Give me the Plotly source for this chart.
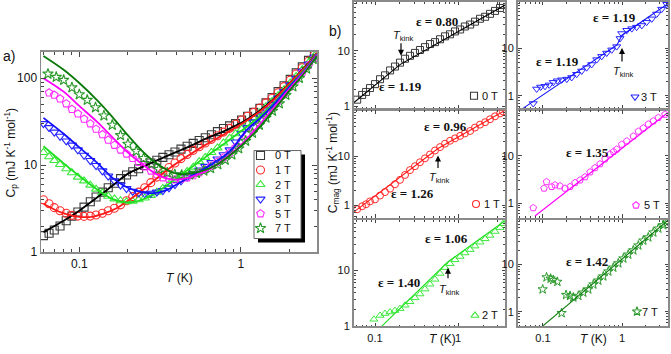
import plotly.graph_objects as go

W, H = 671, 354

# ---------------- panel a): C_p(T) for several fields ----------------
FIELDS = ["0 T", "1 T", "2 T", "3 T", "5 T", "7 T"]

T_A = [0.060, 0.065, 0.070, 0.076, 0.083, 0.090, 0.098, 0.107, 0.117, 0.127,
       0.139, 0.151, 0.165, 0.180, 0.196, 0.214, 0.233, 0.254, 0.277, 0.302,
       0.329, 0.359, 0.391, 0.426, 0.465, 0.507, 0.552, 0.602, 0.657, 0.716,
       0.780, 0.851, 0.927, 1.01, 1.10, 1.20, 1.31, 1.43, 1.56, 1.70,
       1.85, 2.02, 2.20, 2.40, 2.62, 2.85]
CP_0T = [1.55, 1.65, 1.8, 2.0, 2.3, 2.6, 2.9, 3.3, 3.8, 4.3,
         4.9, 5.5, 6.2, 7.0, 7.7, 8.4, 9.1, 9.9, 10.6, 11.4,
         12.3, 13.2, 14.2, 15.3, 16.5, 17.8, 19.2, 20.7, 22.4, 24.3,
         26.4, 28.3, 30.0, 33.0, 36.5, 40.5, 45, 52, 60, 70,
         82, 97, 115, 135, 160, 190]
CP_1T = [4.0, 3.6, 3.25, 3.0, 2.8, 2.65, 2.6, 2.58, 2.6, 2.68,
         2.8, 3.0, 3.2, 3.5, 3.9, 4.35, 4.9, 5.5, 6.3, 7.3,
         8.3, 9.4, 10.6, 11.9, 13.3, 14.8, 16.3, 18.0, 19.8, 21.8,
         24.0, 26.5, 29.5, 33.0, 36.5, 40.5, 45.5, 52, 59, 68,
         80, 95, 112, 132, 157, 185]
CP_2T = [14, 12.5, 11.3, 10.2, 9.1, 8.2, 7.3, 6.6, 5.9, 5.3,
         4.8, 4.4, 4.1, 3.9, 3.8, 3.85, 4.0, 4.2, 4.5, 4.9,
         5.4, 6.0, 6.8, 7.6, 8.5, 9.5, 11.0, 12.3, 14.0, 15.8,
         18.0, 20.5, 23.0, 26.0, 30.0, 34.5, 40, 47, 54, 63,
         74, 88, 105, 125, 150, 180]
CP_3T = [30, 27, 24, 21.5, 19, 17, 15, 13, 11.3, 9.9,
         8.6, 7.5, 6.6, 5.9, 5.4, 5.0, 4.8, 4.7, 4.75, 4.9,
         5.1, 5.5, 6.0, 6.6, 7.3, 8.0, 8.8, 9.7, 10.7, 11.8,
         13.2, 15.0, 18.5, 23.0, 27.0, 31.5, 37, 43, 50, 59,
         70, 84, 100, 120, 145, 175]
T_A5 = [0.065, 0.070, 0.076, 0.083, 0.090, 0.098, 0.107, 0.117, 0.127,
        0.139, 0.151, 0.165, 0.180, 0.196, 0.214, 0.233, 0.254, 0.277, 0.302,
        0.329, 0.359, 0.391, 0.426, 0.465, 0.507, 0.552, 0.602, 0.657, 0.716,
        0.780, 0.851, 0.927, 1.01, 1.10, 1.20, 1.31, 1.43, 1.56, 1.70,
        1.85, 2.02, 2.20, 2.40, 2.62, 2.85]
CP_5T = [68, 64, 58, 51, 44, 39, 34, 30, 26,
         22.5, 19.5, 17, 15, 13.5, 12, 10.8, 9.6, 8.6, 7.8,
         7.2, 6.9, 6.8, 6.9, 7.2, 7.6, 8.2, 8.9, 9.8, 10.9,
         12.2, 13.8, 16, 19, 23, 27.5, 33, 39, 46, 55,
         66, 80, 96, 116, 140, 170]
T_A7 = [0.064, 0.072, 0.08, 0.09, 0.1, 0.112, 0.126, 0.142, 0.16, 0.18,
        0.2, 0.225, 0.25, 0.28, 0.31, 0.35, 0.39, 0.43, 0.48, 0.53,
        0.59, 0.65, 0.72, 0.8, 0.88, 0.97, 1.07, 1.18, 1.3, 1.43,
        1.57, 1.73, 1.9, 2.1, 2.3, 2.55, 2.8]
CP_7T = [112, 103, 95, 78, 65, 56, 46, 37, 29, 22,
         17.5, 14.5, 12, 10.3, 9.0, 8.2, 7.8, 7.7, 7.8, 8.1,
         8.6, 9.2, 10.2, 11.5, 13.2, 15.5, 19, 23.5, 29, 35,
         42, 51, 64, 80, 100, 128, 165]

# fit curves of panel a)
FIT_T_0T = [0.06, 0.08, 0.1, 0.13, 0.16, 0.2, 0.25, 0.3, 0.4, 0.5, 0.6, 0.8, 1.0, 1.3, 1.6, 2.0, 2.5, 2.95]
FIT_C_0T = [1.7, 2.3, 3.0, 4.3, 5.8, 8.0, 9.7, 11.3, 14.2, 17, 20, 25, 30.5, 42, 58, 88, 135, 195]
FIT_T_1T = [0.06, 0.07, 0.08, 0.1, 0.12, 0.14, 0.17, 0.2, 0.25, 0.3, 0.35, 0.4, 0.5, 0.6, 0.8, 1.0, 1.3, 1.6, 2.0, 2.5, 2.95]
FIT_C_1T = [3.6, 3.1, 2.8, 2.55, 2.55, 2.75, 3.2, 3.9, 5.3, 7.0, 8.8, 10.5, 13.8, 17, 23, 29.5, 41, 57, 87, 133, 195]
FIT_T_2T = [0.06, 0.08, 0.1, 0.13, 0.16, 0.19, 0.22, 0.26, 0.3, 0.35, 0.4, 0.5, 0.6, 0.8, 1.0, 1.3, 1.6, 2.0, 2.5, 2.95]
FIT_C_2T = [16.5, 10.5, 7.5, 5.2, 4.1, 3.75, 3.8, 4.2, 4.9, 5.9, 7.1, 9.6, 12.3, 18, 24.5, 36, 52, 82, 128, 190]
FIT_T_3T = [0.06, 0.08, 0.1, 0.13, 0.16, 0.2, 0.25, 0.3, 0.35, 0.4, 0.5, 0.6, 0.7, 0.8, 0.9, 1.0, 1.1, 1.3, 1.6, 2.0, 2.5, 2.95]
FIT_C_3T = [35, 23, 16, 10.5, 7.2, 5.5, 4.85, 4.8, 5.2, 6.0, 7.6, 9.2, 11, 13, 16, 21, 26, 34, 50, 80, 125, 188]
FIT_T_5T = [0.06, 0.08, 0.1, 0.13, 0.16, 0.2, 0.25, 0.3, 0.35, 0.4, 0.45, 0.5, 0.6, 0.7, 0.8, 1.0, 1.3, 1.6, 2.0, 2.5, 2.95]
FIT_C_5T = [100, 70, 48, 31, 21, 14, 10, 7.9, 7.0, 6.8, 7.0, 7.4, 8.5, 10, 12, 17, 29, 46, 76, 122, 185]
FIT_T_7T = [0.06, 0.08, 0.1, 0.13, 0.16, 0.2, 0.25, 0.3, 0.35, 0.4, 0.45, 0.5, 0.6, 0.7, 0.8, 1.0, 1.3, 1.6, 2.0, 2.5, 2.95]
FIT_C_7T = [180, 125, 88, 55, 36, 22, 14, 10.5, 8.8, 8.0, 7.9, 8.1, 8.8, 10, 11.8, 16.5, 27, 43, 72, 118, 180]

# ---------------- panel b): C_mag(T) ----------------
T_B = [0.061, 0.070, 0.078, 0.087, 0.100, 0.115, 0.132, 0.152, 0.174, 0.200,
       0.230, 0.264, 0.303, 0.348, 0.400, 0.460, 0.528, 0.607, 0.697, 0.801,
       0.920, 1.06, 1.21, 1.40, 1.60, 1.84, 2.12, 2.43, 2.79, 3.21, 3.48]
CM_0T = [1.33, 1.62, 1.83, 2.15, 2.53, 3.10, 3.64, 4.46, 5.24, 6.16,
         7.24, 8.17, 9.22, 10.4, 11.7, 13.3, 14.4, 16.2, 18.3, 19.9,
         22.4, 24.3, 27.5, 29.8, 33.6, 37.9, 41.1, 46.4, 52.4, 59.2, 66.8]
CM_1T = [0.83, 0.955, 1.05, 1.20, 1.32, 1.58, 1.86, 2.19, 2.69, 3.31,
         4.17, 5.25, 6.31, 7.59, 9.12, 10.96, 13.2, 15.5, 18.2, 20.9,
         23.4, 26.3, 29.5, 33.1, 38.9, 44.7, 50.1, 57.5, 66.1, 75.9, 83.2]
T_B2 = [0.097, 0.115, 0.132, 0.152, 0.174, 0.200, 0.230, 0.264, 0.303, 0.348,
        0.400, 0.460, 0.528, 0.607, 0.697, 0.801, 0.920, 1.06, 1.21, 1.40,
        1.60, 1.84, 2.12, 2.43, 2.79, 3.21, 3.48]
CM_2T = [1.33, 1.56, 1.69, 1.80, 1.91, 2.07, 2.38, 2.75, 3.23, 3.79,
         4.64, 5.68, 6.95, 8.86, 11.3, 13.3, 15.6, 17.9, 20.7, 23.8,
         27.5, 32.3, 37.2, 42.8, 50.3, 59.2, 69.5]
T_B3 = [0.0753, 0.0832, 0.0935, 0.106, 0.120, 0.135, 0.152, 0.172, 0.200, 0.231,
        0.267, 0.309, 0.357, 0.413, 0.479, 0.553, 0.640, 0.741, 0.857, 0.944,
        0.991, 1.15, 1.33, 1.53, 1.78, 2.05, 2.38, 2.75, 3.18, 3.68]
CM_3T = [0.684, 1.39, 1.53, 1.58, 1.69, 1.92, 2.07, 2.17, 2.24, 2.43,
         2.84, 3.33, 3.91, 4.57, 5.79, 6.78, 7.96, 9.31, 10.9, 16.2,
         20.6, 24.1, 26.1, 28.1, 30.5, 35.7, 42.0, 53.2, 67.5, 85.5]
T_B5 = [0.0753, 0.103, 0.111, 0.129, 0.142, 0.164, 0.190, 0.220, 0.254, 0.294,
        0.340, 0.394, 0.455, 0.527, 0.609, 0.705, 0.780, 0.857, 0.991, 1.15,
        1.39, 1.61, 1.86, 2.15, 2.49, 2.88, 3.50]
CM_5T = [0.80, 2.07, 2.84, 2.24, 2.43, 2.32, 2.07, 2.24, 2.71, 3.08,
         3.60, 4.57, 5.60, 6.78, 8.59, 10.9, 12.3, 13.8, 17.5, 20.6,
         26.1, 33.1, 38.7, 46.8, 54.7, 64.3, 75.2]
T_B7 = [0.0991, 0.111, 0.125, 0.135, 0.152, 0.172, 0.196, 0.220, 0.242, 0.280,
        0.324, 0.374, 0.434, 0.501, 0.580, 0.671, 0.776, 0.898, 1.04, 1.20,
        1.39, 1.61, 1.86, 2.15, 2.49, 2.88, 3.33, 3.68]
CM_7T = [2.98, 5.35, 5.02, 4.72, 4.30, 0.94, 2.27, 2.17, 2.01, 2.17,
         2.55, 2.98, 3.78, 4.57, 5.60, 7.11, 8.59, 10.6, 13.4, 16.2,
         19.9, 25.2, 32.0, 37.4, 47.5, 57.4, 67.5, 76.3]

# power-law fits in panel b)
BFIT_T_0T = [0.0558, 0.200, 3.68]
BFIT_C_0T = [1.18, 5.68, 66.8]
BFIT_T_1T = [0.0574, 0.574, 3.68]
BFIT_C_1T = [0.76, 14.5, 87]
BFIT_T_2T = [0.121, 0.759, 3.68]
BFIT_C_2T = [1.0, 14.4, 78.6]
BFIT_T_3T = [0.0558, 0.865, 1.0, 3.93]
BFIT_C_3T = [0.54, 11.8, 19, 91]
BFIT_T_5T = [0.0792, 3.68]
BFIT_C_5T = [0.54, 78.9]
BFIT_T_7T = [0.0964, 3.85]
BFIT_C_7T = [0.48, 86.7]

EPS_LABELS = ["ε = 0.80", "ε = 1.19", "ε = 1.19", "ε = 1.19", "ε = 0.96", "ε = 1.26",
              "ε = 1.35", "ε = 1.06", "ε = 1.40", "ε = 1.42"]

# ---------------- styling ----------------
SYMBOLS = ["square-open", "circle-open", "triangle-up-open", "triangle-down-open",
           "pentagon-open", "star-open"]
MCOL = ["#3a3a3a", "#ff2b2b", "#3ee83e", "#2424ff", "#ff30ff", "#2a9a2a"]
LCOL = ["#000000", "#ff1a1a", "#1ee01e", "#1010ff", "#ff00ff", "#0a7a0a"]
SANS = "Liberation Sans, Arial, sans-serif"
SERIF = "Liberation Serif, Times New Roman, serif"
FRAME = "#8a8a8a"


def px(x):
    return x / W


def py(y):
    return 1 - y / H


fig = go.Figure()

# panel a) traces
series_a = [(T_A, CP_0T, FIT_T_0T, FIT_C_0T), (T_A, CP_1T, FIT_T_1T, FIT_C_1T),
            (T_A, CP_2T, FIT_T_2T, FIT_C_2T), (T_A, CP_3T, FIT_T_3T, FIT_C_3T),
            (T_A5, CP_5T, FIT_T_5T, FIT_C_5T), (T_A7, CP_7T, FIT_T_7T, FIT_C_7T)]
for i, (tx, cy, ft, fc) in enumerate(series_a):
    fig.add_trace(go.Scatter(x=tx, y=cy, mode="markers", xaxis="x", yaxis="y",
                             marker=dict(symbol=SYMBOLS[i], size=8, color=MCOL[i],
                                         line=dict(width=1.1, color=MCOL[i])),
                             showlegend=False, name=FIELDS[i]))
for i, (tx, cy, ft, fc) in enumerate(series_a):
    fig.add_trace(go.Scatter(x=ft, y=fc, mode="lines", xaxis="x", yaxis="y",
                             line=dict(color=LCOL[i], width=1.8, shape="spline", smoothing=0.8),
                             showlegend=False, hoverinfo="skip"))

# panel b) traces: (axis index, field index, T, C, fitT, fitC)
series_b = [(2, 0, T_B, CM_0T, BFIT_T_0T, BFIT_C_0T),
            (3, 3, T_B3, CM_3T, BFIT_T_3T, BFIT_C_3T),
            (4, 1, T_B, CM_1T, BFIT_T_1T, BFIT_C_1T),
            (5, 4, T_B5, CM_5T, BFIT_T_5T, BFIT_C_5T),
            (6, 2, T_B2, CM_2T, BFIT_T_2T, BFIT_C_2T),
            (7, 5, T_B7, CM_7T, BFIT_T_7T, BFIT_C_7T)]
for n, f, tx, cy, ft, fc in series_b:
    fig.add_trace(go.Scatter(x=tx, y=cy, mode="markers", xaxis=f"x{n}", yaxis=f"y{n}",
                             marker=dict(symbol=SYMBOLS[f], size=7, color=MCOL[f],
                                         line=dict(width=1, color=MCOL[f])),
                             showlegend=False))
    fig.add_trace(go.Scatter(x=ft, y=fc, mode="lines", xaxis=f"x{n}", yaxis=f"y{n}",
                             line=dict(color=LCOL[f], width=1.1), showlegend=False,
                             hoverinfo="skip"))

MINOR_VALS = [k * 10 ** e for e in range(-2, 3) for k in range(2, 10)]


def log_axis(domain, rng, tickvals, ticktext, showlabels, anchor, lw, fs, tlen):
    return dict(type="log", domain=domain, range=rng, anchor=anchor,
                tickmode="array", tickvals=tickvals, ticktext=ticktext,
                showticklabels=showlabels, ticks="inside", ticklen=tlen, tickwidth=1,
                tickcolor="#444", showline=True, linecolor=FRAME, linewidth=lw,
                mirror="allticks", showgrid=False, zeroline=False,
                tickfont=dict(family=SANS, size=fs, color="#111"),
                minor=dict(tickmode="array", tickvals=MINOR_VALS, ticks="inside",
                           ticklen=tlen * 0.55, tickcolor="#444", showgrid=False))


layout_axes = {}
layout_axes["xaxis"] = log_axis([px(41), px(317)], [-1.237, 0.471], [0.1, 1], ["0.1", "1"],
                                True, "y", 1.5, 12, 5)
layout_axes["yaxis"] = log_axis([py(257), py(52)], [0, 2.303], [1, 10, 100], ["1", "10", "100"],
                                True, "x", 1.5, 12, 5)

B_PANELS = [
    (2, (354, 505), (1, 110), (-1.253, 0.566), (-0.035, 1.88), False),
    (3, (518, 668), (1, 110), (-1.316, 0.582), (-0.27, 1.98), False),
    (4, (354, 505), (112, 222), (-1.253, 0.566), (-0.26, 1.94), False),
    (5, (518, 668), (112, 222), (-1.316, 0.582), (-0.31, 1.96), False),
    (6, (354, 505), (224, 333), (-1.253, 0.566), (-0.005, 1.91), True),
    (7, (518, 668), (224, 333), (-1.316, 0.582), (-0.31, 1.94), True),
]
for n, (x0, x1), (y0, y1), xr, yr, xl in B_PANELS:
    layout_axes[f"xaxis{n}"] = log_axis([px(x0), px(x1)], list(xr), [0.1, 1], ["0.1", "1"],
                                        xl, f"y{n}", 2, 11, 3.5)
    layout_axes[f"yaxis{n}"] = log_axis([py(y1), py(y0)], list(yr), [1, 10], ["1", "10"],
                                        True, f"x{n}", 2, 11, 3.5)

# ---------------- keys: symbols on small category axes, labels as annotations ----------------
ann = []


def text_at(x, y, s, size=12, family=SANS, angle=0, xanchor="center"):
    ann.append(dict(x=px(x), y=py(y), xref="paper", yref="paper", text=s, showarrow=False,
                    font=dict(family=family, size=size, color="#111"), textangle=angle,
                    xanchor=xanchor, yanchor="middle", borderpad=0))


KEYS = [
    # axis no, symbol x (px), text start (px), first row y (px), row step (px), fields, size
    (8, 260.5, 274, 158, 14.9, [0, 1, 2, 3, 4, 5], 8),
    (9, 474, 481, 97, 14, [0], 7),
    (10, 635, 640, 98, 14, [3], 7),
    (11, 476, 483, 207.7, 14, [1], 7),
    (12, 636, 643, 209, 14, [4], 7),
    (13, 475, 481, 321.7, 14, [2], 7),
    (14, 637, 641, 317.7, 14, [5], 7),
]
for n, sx, tx0, yfirst, step, fl, ms in KEYS:
    labels = [FIELDS[f] for f in fl]
    k = len(labels)
    top = yfirst - step / 2
    bot = yfirst + step * (k - 0.5)
    layout_axes[f"xaxis{n}"] = dict(domain=[px(sx - 10), px(sx + 10)], range=[-1, 1],
                                    visible=False, fixedrange=True, anchor=f"y{n}")
    layout_axes[f"yaxis{n}"] = dict(domain=[py(bot), py(top)], type="category",
                                    categoryorder="array", categoryarray=labels,
                                    range=[k - 0.5, -0.5], visible=False,
                                    fixedrange=True, anchor=f"x{n}")
    fig.add_trace(go.Scatter(x=[0] * k, y=labels, mode="markers",
                             xaxis=f"x{n}", yaxis=f"y{n}", showlegend=False,
                             marker=dict(symbol=[SYMBOLS[f] for f in fl], size=ms,
                                         color=[MCOL[f] for f in fl],
                                         line=dict(width=1.1, color=[MCOL[f] for f in fl]))))
    for j, lab in enumerate(labels):
        text_at(tx0, yfirst + step * j, lab, 11, xanchor="left")

# ---------------- annotations ----------------
text_at(9, 56, "a)", 14)
text_at(335, 31, "b)", 14)
text_at(179, 283, "<i>T</i> (K)", 12)
text_at(442, 346, "<i>T</i> (K)", 12)
text_at(593, 346, "<i>T</i> (K)", 12)
text_at(11, 155, "C<sub>p</sub> (mJ K<sup>-1</sup> mol<sup>-1</sup>)", 12, angle=-90)
text_at(333, 166, "C<sub>mag</sub> (mJ K<sup>-1</sup> mol<sup>-1</sup>)", 12, angle=-90)

EPS_POS = [(437, 21), (401, 87), (614, 17), (557, 62), (445, 128), (412, 197),
           (587, 155), (446, 243), (399, 288), (587, 267)]
for (x, y), s in zip(EPS_POS, EPS_LABELS):
    text_at(x, y, "<b>" + s + "</b>", 13, SERIF)

KINKS = [(403, 36, 401, 56, -14), (623, 73, 622, 48, 15), (439, 181, 438, 158, 14),
         (449, 296, 448, 273, 12)]
for tx, ty, ax_, ay_, d in KINKS:
    text_at(tx, ty, "<i>T</i><sub>kink</sub>", 11)
    ann.append(dict(x=px(ax_), y=py(ay_), xref="paper", yref="paper", text="", showarrow=True,
                    ax=0, ay=d, arrowhead=2, arrowsize=1, arrowwidth=1.2, arrowcolor="#000"))

shapes = [
    dict(type="rect", xref="paper", yref="paper", x0=px(258), x1=px(305), y0=py(247), y1=py(157),
         fillcolor="#000", line=dict(width=0), layer="below"),
    dict(type="rect", xref="paper", yref="paper", x0=px(254), x1=px(301), y0=py(243), y1=py(153),
         fillcolor="#fff", line=dict(width=1, color="#666"), layer="below"),
]

fig.update_layout(width=W, height=H, margin=dict(l=0, r=0, t=0, b=0),
                  paper_bgcolor="white", plot_bgcolor="rgba(0,0,0,0)",
                  showlegend=False, annotations=ann, shapes=shapes, hovermode=False,
                  font=dict(family=SANS, size=12, color="#111"), **layout_axes)

fig.write_html("out.html", config={"displayModeBar": False, "staticPlot": True},
               post_script="document.body.style.margin='0px';")
